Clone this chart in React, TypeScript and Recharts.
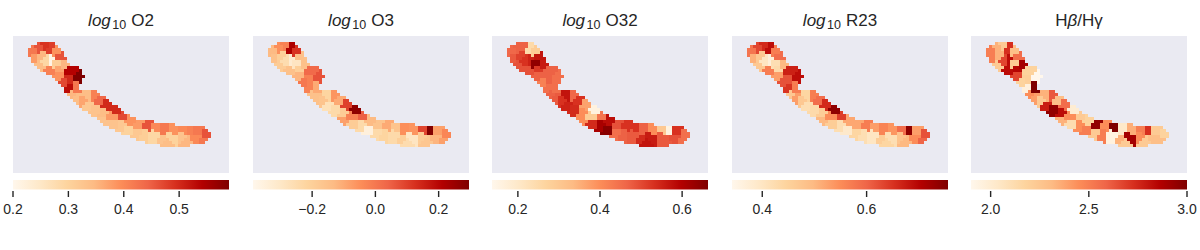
import React from 'react';
import { ScatterChart, Scatter, XAxis, YAxis, ReferenceArea } from 'recharts';

// Map coordinates: 3 units per screen pixel; the frame runs 39..687 and 108..518.
const outlineX = [86,93,105,118,145,160,175,187,197,205,225,242,254,240,240,265,285,302,322,347,387,427,480,540,600,617,636,622,610,575,545,495,450,400,350,308,268,233,208,188,163,131,106,92,86];
const outlineY = [150,138,133,127,125,129,139,155,170,192,197,209,228,250,269,269,264,282,295,317,347,361,367,375,375,385,402,422,435,435,441,440,431,415,395,371,341,319,291,265,235,218,198,181,162];

const binX = [98,118,135,150,168,183,105,122,135,150,168,120,147,175,190,175,192,207,215,232,207,228,230,212,248,282,262,297,262,285,320,347,310,335,365,305,392,415,362,340,385,410,443,470,435,460,493,520,548,570,595,618,490,515,545,558,590,610,498];
const binY = [155,143,137,142,150,170,172,172,182,182,190,195,210,208,190,230,245,265,215,232,240,262,295,285,300,285,290,303,315,330,312,330,340,350,352,362,362,372,375,372,390,400,377,380,405,405,383,388,388,387,390,405,420,412,412,426,415,425,430];

const o2 = [.42,.46,.49,.48,.39,.46,.38,.35,.29,.21,.31,.34,.41,.37,.35,.39,.47,.53,.54,.59,.50,.42,.34,.35,.37,.41,.34,.44,.32,.33,.50,.50,.34,.38,.47,.33,.39,.38,.32,.33,.30,.32,.46,.40,.31,.29,.42,.39,.40,.41,.42,.46,.33,.30,.33,.35,.40,.42,.34];
const o3 = [-.13,-.05,-.02,.22,.12,-.15,-.15,-.2,-.25,-.32,-.29,-.19,-.15,-.2,-.15,-.12,0,-.02,.03,.07,-.02,-.1,-.15,-.15,-.16,-.06,-.22,-.1,-.27,-.24,.1,.27,-.19,-.02,.05,-.08,-.13,-.16,-.24,-.19,-.35,-.24,-.1,-.16,-.22,-.24,-.05,-.06,.09,.29,-.08,-.03,-.2,-.29,-.19,-.17,-.12,-.08,-.25];
const o32 = [.46,.47,.47,.25,.29,.57,.48,.51,.53,.55,.64,.49,.49,.52,.56,.47,.42,.45,.47,.45,.47,.45,.48,.47,.53,.46,.57,.53,.55,.54,.37,.16,.40,.29,.44,.40,.58,.49,.61,.54,.65,.45,.53,.53,.47,.48,.47,.40,.30,.16,.53,.45,.54,.56,.48,.48,.49,.45,.57];
const r23 = [.58,.63,.66,.69,.57,.59,.51,.47,.40,.37,.42,.47,.57,.43,.5,.53,.62,.65,.67,.69,.62,.57,.53,.47,.47,.57,.44,.59,.42,.43,.66,.74,.46,.55,.64,.5,.52,.52,.42,.46,.39,.44,.57,.53,.42,.40,.56,.54,.59,.74,.53,.62,.46,.42,.48,.5,.55,.6,.44];
const hbhg = [2.5,2.34,2.23,2.73,2.29,2.56,2.5,2.34,2.67,2.83,2.23,2.23,2.83,2.85,2.9,2.67,2.18,1.96,2.18,1.9,2.2,3.0,2.4,2.45,2.23,2.62,2.34,2.29,2.78,2.95,2.56,2.0,2.83,2.45,2.23,2.34,2.18,2.95,2.45,2.12,2.5,2.23,2.45,3.0,2.5,1.95,2.03,2.35,2.5,2.73,2.23,2.18,2.34,2.9,2.45,2.23,2.29,2.29,2.23];

const ticksO2 = [0.2, 0.3, 0.4, 0.5];
const ticksO3 = [-0.2, 0, 0.2];
const ticksO32 = [0.2, 0.4, 0.6];
const ticksR23 = [0.4, 0.6];
const ticksHbHg = [2, 2.5, 3];

const orRd = ['#fff7ec','#fee8c8','#fdd49e','#fdbb84','#fc8d59','#ef6548','#d7301f','#b30000','#7f0000'];

const hex = (c: string) => [1, 3, 5].map((i) => parseInt(c.slice(i, i + 2), 16));
const colour = (t: number) => {
  const p = Math.max(0, Math.min(1, t)) * (orRd.length - 1);
  const i = Math.min(orRd.length - 2, Math.floor(p));
  const a = hex(orRd[i]);
  const b = hex(orRd[i + 1]);
  const f = p - i;
  return `rgb(${a.map((v, k) => Math.round(v + (b[k] - v) * f)).join(',')})`;
};

const inside = (x: number, y: number) => {
  let hit = false;
  for (let i = 0, j = outlineX.length - 1; i < outlineX.length; j = i++) {
    if (outlineY[i] > y !== outlineY[j] > y &&
      x < ((outlineX[j] - outlineX[i]) * (y - outlineY[i])) / (outlineY[j] - outlineY[i]) + outlineX[i]) hit = !hit;
  }
  return hit;
};

const nearestBin = (x: number, y: number) => {
  let best = 0;
  let bestD = Infinity;
  binX.forEach((bx, i) => {
    const d = (bx - x) ** 2 + (binY[i] - y) ** 2;
    if (d < bestD) { bestD = d; best = i; }
  });
  return best;
};

const cellsX: number[] = [];
const cellsY: number[] = [];
const cellsBin: number[] = [];
for (let x = 39 + 4.5; x < 687; x += 9) {
  for (let y = 108 + 4.5; y < 518; y += 9) {
    if (inside(x, y)) { cellsX.push(x); cellsY.push(y); cellsBin.push(nearestBin(x, y)); }
  }
}

const Cell = (p: any) => (
  <rect x={Math.round(p.cx - 1.5)} y={Math.round(p.cy - 1.5)} width={3} height={3} fill={p.payload.fill} shapeRendering="crispEdges" />
);

const TXT = '#262626';
const FONT = '"Liberation Sans", Arial, sans-serif';

const Tick = (p: any) => {
  const v: number = p.payload.value;
  const label = (v < 0 ? '\u2212' : '') + Math.abs(v).toFixed(1);
  return (
    <g>
      <line x1={p.x} x2={p.x} y1={p.y} y2={p.y + 6} stroke={TXT} strokeWidth={1.4} />
      <text x={p.x} y={p.y + 23} textAnchor="middle" fontSize={14} fontFamily={FONT} fill={TXT}>{label}</text>
    </g>
  );
};

type PanelProps = { id: string; left: number; values: number[]; vmin: number; vmax: number; ticks: number[]; title: React.ReactNode; };

const Panel = ({ id, left, values, vmin, vmax, ticks, title }: PanelProps) => {
  const data = cellsX.map((x, i) => ({ x, y: cellsY[i], fill: colour((values[cellsBin[i]] - vmin) / (vmax - vmin)) }));
  return (
    <>
      <div style={{ position: 'absolute', left: left - 13, top: 0 }}>
        <ScatterChart width={240} height={180} margin={{ left: 13, right: 11, top: 36, bottom: 7 }}>
          <XAxis type="number" dataKey="x" domain={[39, 687]} hide />
          <YAxis type="number" dataKey="y" domain={[108, 518]} reversed hide />
          <ReferenceArea x1={39} x2={687} y1={108} y2={518} fill="#eaeaf2" fillOpacity={1} stroke="none" />
          <Scatter data={data} isAnimationActive={false} shape={Cell} />
          <text x={121} y={26} textAnchor="middle" fontSize={17} fontFamily={FONT} fill={TXT}>{title}</text>
        </ScatterChart>
      </div>
      <div style={{ position: 'absolute', left: left - 13, top: 170 }}>
        <ScatterChart width={240} height={60} margin={{ left: 13, right: 11, top: 10, bottom: 9 }}>
          <defs>
            <linearGradient id={id} x1="0" y1="0" x2="1" y2="0">
              {orRd.map((c, i) => <stop key={c} offset={i / (orRd.length - 1)} stopColor={c} />)}
            </linearGradient>
          </defs>
          <XAxis type="number" dataKey="x" domain={[vmin, vmax]} allowDataOverflow ticks={ticks} interval={0} height={30}
            axisLine={false} tickSize={0} tickMargin={0} tickLine={false} tick={Tick} />
          <YAxis type="number" dataKey="y" domain={[0, 11]} allowDataOverflow hide />
          <ReferenceArea x1={vmin} x2={vmax} y1={1.5} y2={11} fill={`url(#${id})`} fillOpacity={1} stroke="none" />
          <Scatter data={[{ x: vmin, y: 0 }]} isAnimationActive={false} shape={() => <g />} />
        </ScatterChart>
      </div>
    </>
  );
};

const Log = ({ name }: { name: string }) => (
  <>
    <tspan fontStyle="italic">log</tspan>
    <tspan fontSize={12.5} dy={3} dx={1.5}>10</tspan>
    <tspan dy={-3} dx={5}>{name}</tspan>
  </>
);

export default function App() {
  return (
    <div style={{ position: 'absolute', left: 0, top: 0, width: 1200, height: 250, overflow: 'hidden', background: '#fff' }}>
      <Panel id="cb1" left={13} values={o2} vmin={0.2} vmax={0.59} ticks={ticksO2} title={<Log name="O2" />} />
      <Panel id="cb2" left={253} values={o3} vmin={-0.387} vmax={0.296} ticks={ticksO3} title={<Log name="O3" />} />
      <Panel id="cb3" left={492} values={o32} vmin={0.137} vmax={0.663} ticks={ticksO32} title={<Log name="O32" />} />
      <Panel id="cb4" left={732} values={r23} vmin={0.342} vmax={0.756} ticks={ticksR23} title={<Log name="R23" />} />
      <Panel id="cb5" left={971} values={hbhg} vmin={1.9} vmax={3} ticks={ticksHbHg} title={<>H<tspan fontStyle="italic">β</tspan>/Hγ</>} />
    </div>
  );
}
